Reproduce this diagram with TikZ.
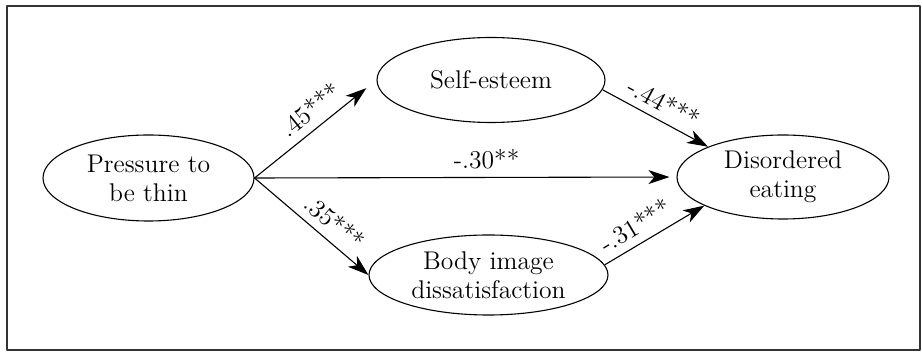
\documentclass[tikz,border=0pt]{standalone}
\usetikzlibrary{shapes.geometric,arrows.meta}
\begin{document}
\begin{tikzpicture}[x=0.5pt, y=-0.5pt, font=\fontsize{12.8}{14.5}\selectfont, line join=round,
    >={Stealth[length=10.5pt,width=7pt,inset=3pt]},
    oval/.style={draw, ellipse, inner sep=0pt, align=center, line width=0.55pt},
    link/.style={->, line width=0.55pt},
    coef/.style={sloped, above, inner sep=4pt, font=\fontsize{12.8}{14}\selectfont}]
    \useasboundingbox (0,0) rectangle (922,352);
    \draw[line width=0.7pt, black!80] (7,6) rectangle (920,350);
    % variables
    \node[oval, minimum width=105.5pt, minimum height=43pt] (ptt) at (148.5,178) {Pressure to\\be thin};
    \node[oval, minimum width=114pt, minimum height=42.5pt] (se) at (491,80) {Self-esteem};
    \node[oval, minimum width=119.5pt, minimum height=40pt] (bid) at (488.5,275) {Body image\\dissatisfaction};
    \node[oval, minimum width=106pt, minimum height=42pt] (de) at (783,177) {Disordered\\eating};
    % paths
    \draw[link, shorten >=6.5pt] (ptt.east) -- (se.west) node[coef, pos=0.55]{.45***};
    \draw[link] (ptt.east) -- (bid.west) node[coef, pos=0.6]{.35***};
    \draw[link, shorten >=3.5pt] (ptt.east) -- (de.west) node[coef, pos=0.55]{-.30**};
    \draw[link] (se.-5) -- (de.158) node[coef, pos=0.5]{-.44***};
    \draw[link] (bid.5) -- (de.200) node[coef, pos=0.4]{-.31***};
\end{tikzpicture}
\end{document}
